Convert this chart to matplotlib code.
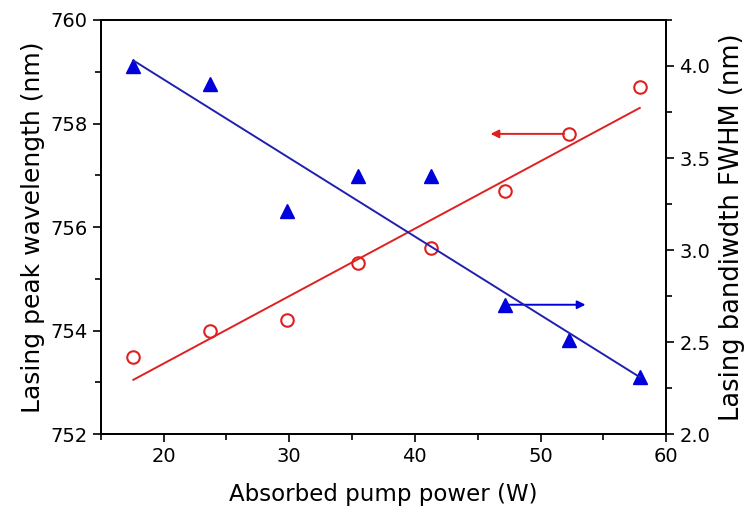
import numpy as np
import matplotlib.pyplot as plt
from matplotlib.ticker import MultipleLocator

# Data
power = [17.6, 23.7, 29.8, 35.5, 41.3, 47.2, 52.3, 57.9]
peak_wl = [753.5, 754.0, 754.2, 755.3, 755.6, 756.7, 757.8, 758.7]
fwhm = [4.00, 3.90, 3.21, 3.40, 3.40, 2.70, 2.51, 2.31]

# linear fit lines as drawn in the figure (slope, intercept)
fit_wl = [0.1303, 750.757]
fit_bw = [-0.04268, 4.781]

red = '#e02020'
blue = '#0000dd'

xf = np.array([power[0], power[-1]])

fig = plt.figure(figsize=(7.46, 5.12), dpi=100)
ax = fig.add_axes([0.135, 0.152, 0.758, 0.809])
ax2 = ax.twinx()

ax.plot(power, peak_wl, 'o', mfc='none', mec=red, mew=1.5, ms=9)
ax.plot(xf, np.polyval(fit_wl, xf), color=red, lw=1.4)
ax2.plot(power, fwhm, '^', color=blue, ms=10)
ax2.plot(xf, np.polyval(fit_bw, xf), color='#2020b0', lw=1.4)

# arrows pointing to each axis
ax.annotate('', xy=(45.8, 757.8), xytext=(52.1, 757.8),
            arrowprops=dict(arrowstyle='-|>', color=red, lw=1.4, mutation_scale=12))
ax.annotate('', xy=(53.8, 754.5), xytext=(47.2, 754.5),
            arrowprops=dict(arrowstyle='-|>', color=blue, lw=1.4, mutation_scale=12))

ax.set_xlim(15, 60)
ax.set_ylim(752, 760)
ax2.set_ylim(2.0, 4.25)

ax.xaxis.set_major_locator(MultipleLocator(10))
ax.xaxis.set_minor_locator(MultipleLocator(5))
ax.yaxis.set_major_locator(MultipleLocator(2))
ax.yaxis.set_minor_locator(MultipleLocator(1))
ax2.yaxis.set_major_locator(MultipleLocator(0.5))
ax2.yaxis.set_minor_locator(MultipleLocator(0.25))
ax2.yaxis.set_major_formatter(plt.FormatStrFormatter('%.1f'))

for a in (ax, ax2):
    a.tick_params(which='major', direction='out', length=6, width=1.2, labelsize=14)
    a.tick_params(which='minor', direction='out', length=4, width=1.2)
    for s in a.spines.values():
        s.set_linewidth(1.3)

ax.set_xlabel('Absorbed pump power (W)', fontsize=16.5, labelpad=12)
ax.set_ylabel('Lasing peak wavelength (nm)', fontsize=18, labelpad=4)
ax2.set_ylabel('Lasing bandiwdth FWHM (nm)', fontsize=18.5, labelpad=6)

fig.savefig('out.png', dpi=100)
